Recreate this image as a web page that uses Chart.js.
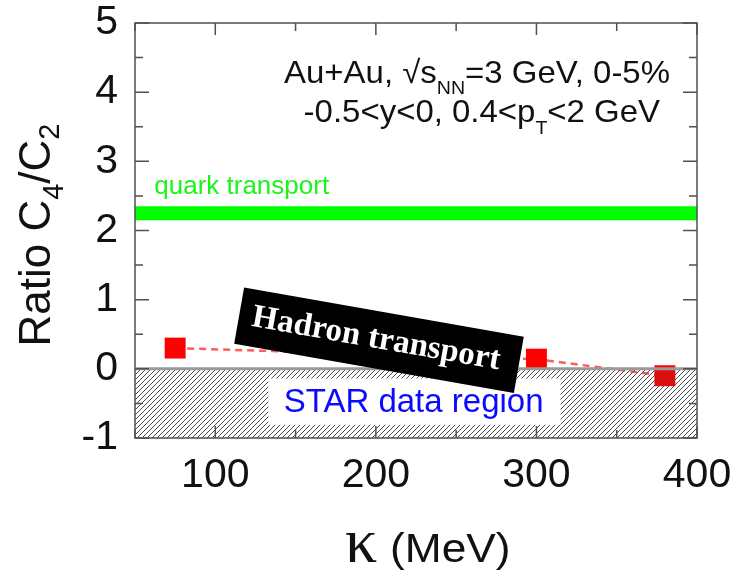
<!DOCTYPE html>
<html>
<head>
<meta charset="utf-8">
<script src="https://cdn.jsdelivr.net/npm/chart.js@4.4.1/dist/chart.umd.min.js"></script>
<style>
body{margin:0;background:#fff}
canvas{display:block}
</style>
</head>
<body>
<canvas id="c" width="741" height="577"></canvas>
<script>
// hadron transport calculation (red squares)
const kappa = [75, 300, 380];
const ratio = [0.30, 0.14, -0.10];
// quark transport band
const quarkX = [50, 400];
const quarkLow = 2.15;
const quarkHigh = 2.35;
// STAR data region (hatched)
const starX = [50, 400];
const starLow = -1;
const starHigh = 0;
// axis ticks with labels
const xLabels = [100, 200, 300, 400];
const yLabels = [-1, 0, 1, 2, 3, 4, 5];

const SANS = 'Liberation Sans, Arial, sans-serif';
const SERIF = 'Liberation Serif, Times New Roman, serif';

function hatch(){
  let c = document.createElement('canvas');
  c.width = 5; c.height = 5;
  let g = c.getContext('2d');
  g.strokeStyle = '#4a4a4a';
  g.lineWidth = 1;
  g.beginPath();
  g.moveTo(0,5); g.lineTo(5,0);
  g.moveTo(-1,1); g.lineTo(1,-1);
  g.moveTo(4,6); g.lineTo(6,4);
  g.stroke();
  return g.createPattern(c,'repeat');
}

// text with sub-scripts: parts = [text, font, dy]
function drawRich(ctx, parts, x, y, align, sx){
  let w = 0;
  parts.forEach(p => { ctx.font = p[1]; w += ctx.measureText(p[0]).width; });
  ctx.save();
  ctx.translate(x, y);
  ctx.scale(sx || 1, 1);
  ctx.textAlign = 'left';
  ctx.textBaseline = 'alphabetic';
  let cx = align == 'center' ? -w/2 : (align == 'right' ? -w : 0);
  parts.forEach(p => {
    ctx.font = p[1];
    ctx.fillText(p[0], cx, p[2] || 0);
    cx += ctx.measureText(p[0]).width;
  });
  ctx.restore();
}

const annotations = {
  id: 'annotations',
  afterDatasetsDraw(chart){
    const {ctx, scales:{x, y}} = chart;
    ctx.save();
    // STAR data region label
    let x0 = x.getPixelForValue(133), x1 = x.getPixelForValue(315);
    let y0 = y.getPixelForValue(-0.14), y1 = y.getPixelForValue(-0.81);
    ctx.fillStyle = '#fff';
    ctx.fillRect(x0, y0, x1-x0, y1-y0);
    ctx.fillStyle = '#0a0aff';
    drawRich(ctx, [['STAR data region', '33px ' + SANS]], x.getPixelForValue(223.5), y.getPixelForValue(-0.62), 'center');

    // Hadron transport tag
    ctx.save();
    ctx.translate(x.getPixelForValue(202), y.getPixelForValue(0.42));
    ctx.rotate(10 * Math.PI / 180);
    ctx.fillStyle = '#000';
    ctx.fillRect(-142, -28, 284, 57);
    ctx.fillStyle = '#fff';
    ctx.font = 'bold 33px ' + SERIF;
    ctx.letterSpacing = '0px';
    ctx.textAlign = 'center';
    ctx.textBaseline = 'middle';
    ctx.fillText('Hadron transport', -3, 0);
    ctx.restore();

    // quark transport label
    ctx.fillStyle = '#19f519';
    drawRich(ctx, [['quark transport', '26px ' + SANS]], x.getPixelForValue(62), y.getPixelForValue(2.53), 'left');

    // collision info
    ctx.fillStyle = '#111';
    const big = '32px ' + SANS, sub = '19px ' + SANS;
    drawRich(ctx, [['Au+Au, \u221As', big], ['NN', sub, 11], ['=3 GeV, 0-5%', big]],
      x.getPixelForValue(263), y.getPixelForValue(4.13), 'center', 1.03);
    drawRich(ctx, [['-0.5<y<0, 0.4<p', big], ['T', sub, 12], ['<2 GeV', big]],
      x.getPixelForValue(266), y.getPixelForValue(3.57), 'center', 1.03);
    ctx.restore();
  },
  afterDraw(chart){
    const {ctx, chartArea:a, scales:{x, y}} = chart;
    ctx.save();
    // frame
    ctx.strokeStyle = '#505050';
    ctx.lineWidth = 1.5;
    ctx.strokeRect(a.left, a.top, a.right-a.left, a.bottom-a.top);
    // inward ticks
    ctx.beginPath();
    y.ticks.forEach(t => {
      let p = y.getPixelForValue(t.value);
      let len = yLabels.includes(t.value) ? 14 : 8;
      ctx.moveTo(a.left, p); ctx.lineTo(a.left+len, p);
      ctx.moveTo(a.right, p); ctx.lineTo(a.right-len, p);
    });
    x.ticks.forEach(t => {
      let p = x.getPixelForValue(t.value);
      let len = xLabels.includes(t.value) ? 12 : 8;
      ctx.moveTo(p, a.top); ctx.lineTo(p, a.top+len);
      ctx.moveTo(p, a.bottom); ctx.lineTo(p, a.bottom-len);
    });
    ctx.stroke();

    // axis titles
    ctx.fillStyle = '#111';
    ctx.font = '64px ' + SERIF;
    ctx.textBaseline = 'alphabetic';
    ctx.textAlign = 'left';
    ctx.fillText('\u03BA', 345, 562);
    ctx.font = '41px ' + SANS;
    ctx.save();
    ctx.translate(390, 562); ctx.scale(1.08, 1);
    ctx.fillText('(MeV)', 0, 0);
    ctx.restore();

    ctx.save();
    ctx.translate(50, 235);
    ctx.rotate(-Math.PI/2);
    drawRich(ctx, [['Ratio C', '44px ' + SANS], ['4', '29px ' + SANS, 13], ['/C', '44px ' + SANS], ['2', '29px ' + SANS, 9]], 0, 0, 'center');
    ctx.restore();
    ctx.restore();
  }
};

const ctx = document.getElementById('c').getContext('2d');
const myChart = new Chart(ctx, {
  type: 'line',
  data: {
    datasets: [
      {
        label: 'STAR data region',
        data: starX.map(v => ({x: v, y: starHigh})),
        fill: {value: starLow},
        backgroundColor: hatch(),
        borderColor: '#9a9a9a',
        borderWidth: 3,
        pointRadius: 0,
        order: 0
      },
      {
        label: 'quark transport',
        data: quarkX.map(v => ({x: v, y: quarkHigh})),
        fill: {value: quarkLow},
        backgroundColor: '#00ff00',
        borderColor: '#00ff00',
        borderWidth: 0,
        pointRadius: 0,
        order: 2
      },
      {
        label: 'Hadron transport',
        data: kappa.map((v, i) => ({x: v, y: ratio[i]})),
        borderColor: '#ff5c5c',
        borderWidth: 2.5,
        borderDash: [7, 5],
        pointStyle: 'rect',
        pointRadius: 14.8,
        pointBackgroundColor: '#ff0000',
        pointBorderColor: '#ff0000',
        pointBorderWidth: 0,
        order: 1
      }
    ]
  },
  options: {
    responsive: false,
    animation: false,
    layout: {padding: {left: 0, right: 44, top: 23, bottom: 0}},
    plugins: {
      legend: {display: false},
      tooltip: {enabled: false}
    },
    scales: {
      x: {
        type: 'linear',
        min: 50,
        max: 400,
        grid: {display: false, drawTicks: false},
        border: {display: false},
        ticks: {
          stepSize: 50,
          autoSkip: false,
          maxRotation: 0,
          padding: 13,
          color: '#111',
          font: {family: SANS, size: 41},
          callback: v => xLabels.includes(v) ? String(v) : ''
        },
        afterFit: s => { s.height = 139; s.paddingLeft = 0; s.paddingRight = 0; }
      },
      y: {
        min: -1,
        max: 5,
        grid: {display: false, drawTicks: false},
        border: {display: false},
        ticks: {
          stepSize: 0.5,
          autoSkip: false,
          padding: 17,
          color: '#111',
          font: {family: SANS, size: 41},
          callback: v => yLabels.includes(v) ? String(v) : ''
        },
        afterFit: s => { s.width = 135; s.paddingTop = 0; s.paddingBottom = 0; }
      }
    }
  },
  plugins: [annotations]
});
</script>
</body>
</html>
